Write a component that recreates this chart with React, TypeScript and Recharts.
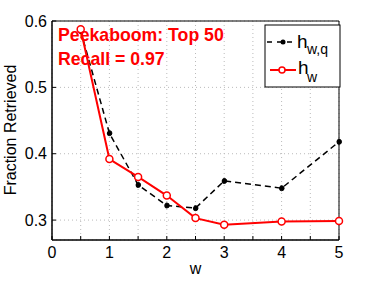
import { LineChart, Line, XAxis, YAxis, CartesianGrid, ReferenceArea } from "recharts";

const wValues = [0.5, 1, 1.5, 2, 2.5, 3, 4, 5];
const hwqValues = [0.585, 0.431, 0.353, 0.322, 0.318, 0.359, 0.348, 0.418];
const hwValues = [0.5875, 0.392, 0.365, 0.337, 0.303, 0.293, 0.298, 0.2985];
const xTicks = [0, 0.5, 1, 1.5, 2, 2.5, 3, 3.5, 4, 4.5, 5];
const yTicks = [0.3, 0.4, 0.5, 0.6];

const data = wValues.map((w, i) => ({ w, hwq: hwqValues[i], hw: hwValues[i] }));

const font = "'Liberation Sans', Arial, sans-serif";

export default function App() {
  return (
    <div style={{ position: "absolute", left: 0, top: 0, width: 374, height: 281, background: "#fff", fontFamily: font }}>
      <LineChart width={374} height={281} data={data} margin={{ top: 21, right: 35, left: 0, bottom: 0 }}>
        <CartesianGrid stroke="#bbb" strokeDasharray="1 3" />
        <XAxis
          dataKey="w"
          type="number"
          domain={[0, 5]}
          ticks={xTicks}
          tickFormatter={(v: number) => (Number.isInteger(v) ? String(v) : "")}
          height={41}
          tickSize={-4}
          tickMargin={11}
          stroke="#000"
          tick={{ fill: "#000", fontSize: 16, fontFamily: font }}
          label={{ value: "w", position: "insideBottom", offset: 7, fill: "#000", fontSize: 16, fontFamily: font }}
        />
        <YAxis
          type="number"
          domain={[0.27, 0.6]}
          ticks={yTicks}
          tickFormatter={(v: number) => v.toFixed(1)}
          width={52}
          tickSize={-4}
          tickMargin={9}
          stroke="#000"
          tick={{ fill: "#000", fontSize: 16, fontFamily: font }}
        />
        <ReferenceArea x1={0} x2={5} y1={0.27} y2={0.6} stroke="#000" strokeWidth={1} fill="none" fillOpacity={0} />
        <Line
          dataKey="hwq"
          stroke="#000"
          strokeWidth={1.5}
          strokeDasharray="6 4"
          dot={{ r: 2.5, fill: "#000", stroke: "#000", strokeWidth: 1 }}
          isAnimationActive={false}
        />
        <Line
          dataKey="hw"
          stroke="#f00"
          strokeWidth={2}
          dot={{ r: 3.5, fill: "#fff", stroke: "#f00", strokeWidth: 1.5 }}
          isAnimationActive={false}
        />
      </LineChart>
      <svg width={374} height={281} style={{ position: "absolute", left: 0, top: 0, pointerEvents: "none" }}>
        <text x={16} y={130} transform="rotate(-90 16 130)" textAnchor="middle" fill="#000" fontSize={16} fontFamily={font}>Fraction Retrieved</text>
        <text x={58} y={41} fill="#f00" fontSize={17.7} fontWeight="bold" fontFamily={font}>Peekaboom: Top 50</text>
        <text x={58} y={65} fill="#f00" fontSize={17.7} fontWeight="bold" fontFamily={font}>Recall = 0.97</text>
        <rect x={265} y={25} width={75} height={62} fill="#fff" stroke="#000" strokeWidth={1} />
        <line x1={267} y1={42} x2={294} y2={42} stroke="#000" strokeWidth={1.5} strokeDasharray="5 5" />
        <circle cx={283} cy={42} r={2.5} fill="#000" />
        <text x={297} y={48} fontSize={19} fontFamily={font} fill="#000">h</text>
        <text x={307} y={54} fontSize={14} fontFamily={font} fill="#000">w,q</text>
        <line x1={270} y1={70} x2={296} y2={70} stroke="#f00" strokeWidth={2} />
        <circle cx={282} cy={70} r={3} fill="#fff" stroke="#f00" strokeWidth={1.5} />
        <text x={298} y={74} fontSize={19} fontFamily={font} fill="#000">h</text>
        <text x={307} y={82} fontSize={14} fontFamily={font} fill="#000">w</text>
      </svg>
    </div>
  );
}
